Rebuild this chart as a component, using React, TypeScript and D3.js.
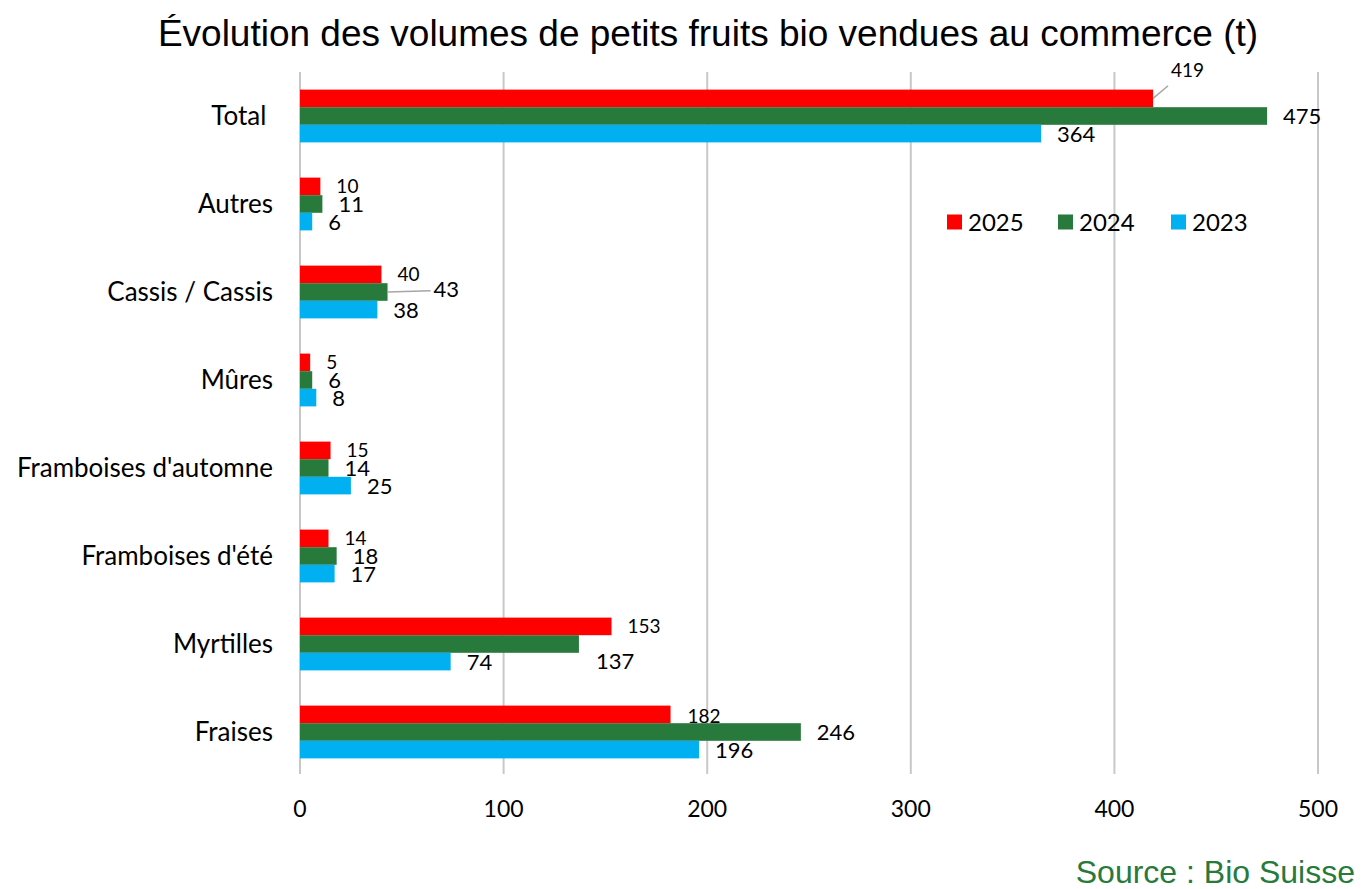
import React from "react";
import * as d3 from "d3";

const categories = [
  "Total ",
  "Autres",
  "Cassis / Cassis",
  "Mûres",
  "Framboises d'automne",
  "Framboises d'été",
  "Myrtilles",
  "Fraises",
];
const years = ["2025", "2024", "2023"];
const values2025 = [419, 10, 40, 5, 15, 14, 153, 182];
const values2024 = [475, 11, 43, 6, 14, 18, 137, 246];
const values2023 = [364, 6, 38, 8, 25, 17, 74, 196];
const xTicks = [0, 100, 200, 300, 400, 500];

const seriesValues: Record<string, number[]> = {
  "2025": values2025,
  "2024": values2024,
  "2023": values2023,
};
const colors: Record<string, string> = {
  "2025": "#FF0000",
  "2024": "#277A3C",
  "2023": "#00B0F0",
};

// hand-moved labels, like in the original workbook
const labelTweaks: Record<string, { dx: number; dy: number; leader?: boolean }> = {
  "0|2025": { dx: 18, dy: -28, leader: true },
  "2|2024": { dx: 46, dy: -3, leader: true },
  "6|2024": { dx: 17, dy: 17 },
  "7|2025": { dx: 17, dy: 2 },
};

const W = 1361;
const H = 889;
const margin = { top: 72, right: 43, bottom: 113, left: 300 };
const labelFont = "Lato, 'Open Sans', sans-serif";

export default function App() {
  const x = d3
    .scaleLinear()
    .domain([0, 500])
    .range([margin.left, W - margin.right]);

  const y = d3
    .scaleBand<number>()
    .domain(d3.range(categories.length))
    .range([margin.top, H - margin.bottom])
    .paddingInner(0.4)
    .paddingOuter(0.2);

  const ySub = d3.scaleBand<string>().domain(years).range([0, y.bandwidth()]);

  const gridTop = margin.top;
  const gridBottom = H - margin.bottom - 2;

  return (
    <svg width={W} height={H} style={{ display: "block", position: "absolute", left: 0, top: 0 }}>
      <rect width={W} height={H} fill="#fff" />
      <text
        x={708}
        y={46}
        textAnchor="middle"
        fontFamily="'Liberation Sans', Arial, sans-serif"
        fontSize={37}
        fill="#000"
      >
        Évolution des volumes de petits fruits bio vendues au commerce (t)
      </text>

      {/* gridlines */}
      {xTicks.map((t) => (
        <line
          key={t}
          x1={x(t)}
          x2={x(t)}
          y1={gridTop}
          y2={gridBottom}
          stroke="#C8C8C8"
          strokeWidth={2}
        />
      ))}
      {xTicks.map((t) => (
        <text
          key={"t" + t}
          x={x(t)}
          y={817}
          textAnchor="middle"
          fontFamily={labelFont}
          fontSize={23}
          fill="#000"
        >
          {t}
        </text>
      ))}

      {/* category labels */}
      {categories.map((c, i) => (
        <text
          key={c}
          x={273}
          y={(y(i) as number) + y.bandwidth() / 2}
          dy="0.35em"
          textAnchor="end"
          fontFamily={labelFont}
          fontSize={26}
          fill="#000"
          style={{ whiteSpace: "pre" }}
        >
          {c}
        </text>
      ))}

      {/* bars */}
      {categories.map((c, i) => (
        <g key={"g" + i} transform={`translate(0,${y(i)})`}>
          {years.map((yr) => (
            <rect
              key={yr}
              x={x(0)}
              y={ySub(yr)}
              width={x(seriesValues[yr][i]) - x(0)}
              height={ySub.bandwidth()}
              fill={colors[yr]}
            />
          ))}
        </g>
      ))}

      {/* data labels */}
      {categories.map((c, i) =>
        years.map((yr) => {
          const v = seriesValues[yr][i];
          const tw = labelTweaks[`${i}|${yr}`] || { dx: 16, dy: 0 };
          const bx = x(v);
          const by = (y(i) as number) + (ySub(yr) as number) + ySub.bandwidth() / 2;
          return (
            <g key={`l${i}${yr}`}>
              {tw.leader && (
                <line
                  x1={bx}
                  y1={by}
                  x2={bx + tw.dx - 3}
                  y2={by + tw.dy * 0.45}
                  stroke="#A6A6A6"
                  strokeWidth={1.5}
                />
              )}
              <text
                x={bx + tw.dx}
                y={by + tw.dy}
                dy="0.36em"
                fontFamily={labelFont}
                fontSize={yr === "2025" ? 19 : 22}
                fill="#000"
              >
                {v}
              </text>
            </g>
          );
        })
      )}

      {/* legend */}
      {years.map((yr, k) => {
        const lx = [947, 1058, 1171][k];
        return (
          <g key={"lg" + yr} transform={`translate(${lx},222)`}>
            <rect x={0} y={-7.5} width={15} height={15} fill={colors[yr]} />
            <text x={21} y={0} dy="0.36em" fontFamily={labelFont} fontSize={24} fill="#000">
              {yr}
            </text>
          </g>
        );
      })}

      <text
        x={1355}
        y={883}
        textAnchor="end"
        fontFamily="'Liberation Sans', Arial, sans-serif"
        fontSize={32}
        fill="#277A3C"
      >
        Source : Bio Suisse
      </text>
    </svg>
  );
}
